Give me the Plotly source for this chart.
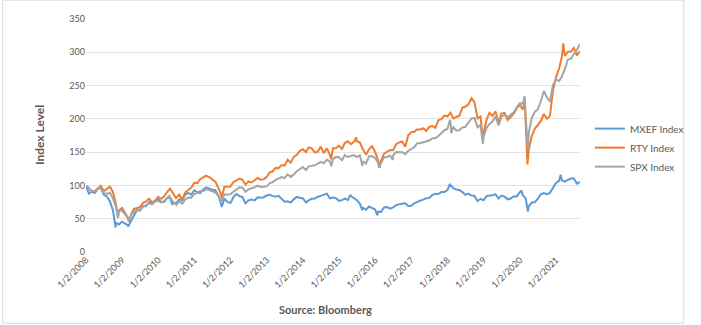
import pandas as pd
import plotly.graph_objects as go

# Month-end observation dates (Jan 2008 .. Aug 2021)
months = [d.strftime("%Y-%m-%d") for d in pd.date_range("2008-01-31", "2021-08-31", freq="ME")]
start_date = "2008-01-02"

# Index levels (rebased, 1/2/2008 = 100), month-end readings
mxef_monthly = [
    87.6, 90.8, 88.7, 94.8, 96.0, 85.9, 83.5, 75.9, 62.7, 43.8, 41.4, 45.5,
    42.6, 40.3, 46.2, 53.8, 63.1, 62.3, 69.1, 68.7, 75.1, 74.7, 77.5, 79.5,
    75.1, 75.1, 81.1, 81.5, 73.9, 73.5, 79.1, 77.5, 86.3, 88.8, 86.3, 92.5,
    89.6, 88.4, 94.0, 97.2, 94.8, 93.6, 92.8, 85.1, 70.7, 80.3, 75.1, 73.6,
    82.7, 87.1, 83.9, 82.7, 73.1, 77.5, 78.7, 77.5, 82.3, 81.5, 82.3, 84.8,
    85.9, 84.3, 83.1, 84.3, 80.3, 75.5, 76.3, 74.3, 79.1, 82.7, 81.5, 80.5,
    75.1, 77.5, 79.9, 80.3, 83.1, 84.3, 85.5, 87.6, 80.7, 81.9, 80.7, 76.8,
    77.9, 80.3, 78.3, 84.2, 80.7, 77.9, 72.3, 66.3, 63.5, 68.3, 65.5, 63.8,
    60.6, 60.2, 67.1, 67.5, 65.1, 67.1, 70.3, 71.9, 72.7, 73.1, 69.1, 69.3,
    73.1, 75.5, 77.1, 78.7, 80.7, 81.1, 85.5, 87.6, 87.1, 90.0, 90.0, 93.0,
    100.4, 96.0, 94.0, 93.2, 90.0, 85.9, 87.6, 84.7, 84.3, 76.7, 79.9, 77.6,
    84.3, 84.3, 85.1, 86.7, 80.3, 84.7, 83.1, 79.1, 80.3, 83.5, 83.5, 89.5,
    85.1, 80.7, 68.3, 74.3, 74.7, 79.9, 86.7, 88.4, 86.7, 88.8, 96.8, 103.7,
    106.8, 107.6, 105.6, 108.4, 110.4, 110.4, 102.8, 105.2,
]
rty_monthly = [
    94.66, 91.06, 91.30, 94.89, 99.43, 91.53, 94.30, 98.14, 90.19, 71.33, 62.79, 66.28,
    58.86, 51.63, 56.10, 64.70, 66.56, 67.45, 73.88, 75.92, 80.19, 74.68, 76.94, 83.00,
    79.90, 83.33, 90.06, 95.10, 87.94, 80.89, 86.38, 78.30, 89.73, 93.34, 96.48, 104.00,
    103.69, 109.28, 111.95, 114.84, 112.58, 109.81, 105.78, 96.46, 85.49, 98.35, 97.86, 98.33,
    105.22, 107.62, 110.19, 108.41, 101.10, 105.97, 104.44, 107.77, 111.14, 108.66, 109.08, 112.72,
    119.72, 120.91, 126.28, 125.74, 130.61, 129.72, 138.72, 134.16, 142.51, 146.00, 151.68, 154.43,
    150.08, 157.00, 155.68, 149.55, 150.56, 158.32, 148.65, 155.85, 146.21, 155.74, 155.70, 159.88,
    154.66, 163.68, 166.26, 161.93, 165.43, 166.42, 164.39, 153.87, 146.08, 154.19, 159.00, 150.75,
    137.41, 137.21, 147.84, 150.08, 153.26, 152.87, 161.90, 164.55, 166.11, 158.11, 175.49, 180.11,
    180.73, 184.03, 183.93, 185.86, 181.84, 187.83, 189.13, 186.50, 197.85, 199.43, 204.92, 203.78,
    209.02, 200.72, 202.97, 204.63, 216.80, 218.06, 221.73, 231.02, 225.16, 200.58, 203.48, 178.97,
    198.99, 209.10, 204.34, 211.17, 194.49, 207.90, 208.97, 198.39, 202.17, 207.35, 215.59, 221.42,
    214.21, 195.94, 153.03, 173.94, 185.00, 191.29, 196.47, 207.28, 200.09, 204.17, 241.51, 262.09,
    275.20, 292.11, 294.69, 300.78, 301.12, 306.63, 295.45, 301.76,
]
spx_monthly = [
    95.26, 91.95, 91.40, 95.75, 96.77, 88.45, 87.58, 88.64, 80.60, 66.94, 61.93, 62.42,
    57.07, 50.80, 55.13, 60.31, 63.51, 63.53, 68.24, 70.53, 73.05, 71.60, 75.71, 77.05,
    74.21, 76.32, 80.81, 82.00, 75.28, 71.22, 76.12, 72.51, 78.86, 81.77, 81.58, 86.91,
    88.87, 91.71, 91.62, 94.23, 92.96, 91.26, 89.30, 84.23, 78.18, 86.60, 86.17, 86.90,
    90.69, 94.37, 97.33, 96.60, 90.55, 94.13, 95.31, 97.20, 99.55, 97.58, 97.86, 98.55,
    103.52, 104.67, 108.43, 110.39, 112.69, 111.00, 116.49, 112.84, 116.20, 121.38, 124.78, 127.72,
    123.18, 128.49, 129.38, 130.18, 132.92, 135.45, 133.41, 138.44, 136.29, 139.45, 142.87, 142.27,
    137.86, 145.42, 142.89, 144.11, 145.62, 142.56, 145.38, 136.28, 132.68, 143.69, 143.76, 141.24,
    134.07, 133.52, 142.33, 142.71, 144.90, 145.03, 150.20, 150.02, 149.83, 146.92, 151.94, 154.71,
    157.47, 163.33, 163.27, 164.75, 166.66, 167.46, 170.70, 170.80, 174.09, 177.95, 182.95, 184.75,
    195.13, 187.53, 182.49, 182.99, 186.94, 187.84, 194.61, 200.50, 201.36, 187.39, 190.73, 173.23,
    186.86, 192.42, 195.86, 203.56, 190.17, 203.28, 205.95, 202.22, 205.70, 209.90, 217.05, 223.25,
    222.89, 204.14, 178.60, 201.25, 210.37, 214.23, 226.04, 241.88, 232.39, 225.96, 250.26, 259.55,
    256.66, 263.36, 274.53, 288.93, 290.51, 296.96, 303.72, 312.53,
]

# Intra-month extremes
mxef_extra_dates = ["2008-10-27", "2009-03-02", "2010-05-25", "2011-10-04", "2014-02-03",
                    "2015-04-27", "2015-08-24", "2016-01-21", "2018-01-26", "2020-01-17",
                    "2020-03-23", "2021-02-17"]
mxef_extra_vals = [36.9, 38.2, 70.7, 67.5, 74.3, 85.9, 62.7, 55.3, 102.2, 92.4, 60.9, 116.1]

rty_extra_dates = ["2008-11-20", "2009-03-09", "2011-10-03", "2014-10-13", "2015-06-23",
                   "2016-02-11", "2018-12-24", "2020-02-19", "2020-03-18", "2021-03-15"]
rty_extra_vals = [51.13, 45.55, 80.89, 139.26, 171.9, 126.57, 168.14, 225.08, 131.54, 313.22]

spx_extra_dates = ["2008-11-20", "2009-03-09", "2010-04-23", "2010-07-02", "2011-10-03",
                   "2014-10-15", "2015-08-25", "2016-02-11", "2016-06-27", "2018-01-26",
                   "2018-02-08", "2018-12-24", "2020-02-19", "2020-03-23"]
spx_extra_vals = [51.99, 46.75, 84.1, 70.66, 75.96, 128.7, 129.05, 126.4, 138.2, 198.52,
                  178.4, 162.47, 233.99, 154.61]

tick_dates = ["2008-01-02", "2009-01-02", "2010-01-02", "2011-01-02", "2012-01-02",
              "2013-01-02", "2014-01-02", "2015-01-02", "2016-01-02", "2017-01-02",
              "2018-01-02", "2019-01-02", "2020-01-02", "2021-01-02"]
tick_labels = ["1/2/2008", "1/2/2009", "1/2/2010", "1/2/2011", "1/2/2012", "1/2/2013",
               "1/2/2014", "1/2/2015", "1/2/2016", "1/2/2017", "1/2/2018", "1/2/2019",
               "1/2/2020", "1/2/2021"]

series_names = ["MXEF Index", "RTY Index", "SPX Index"]
series_colors = ["#5B9BD5", "#ED7D31", "#A5A5A5"]


def build(monthly, extra_dates, extra_vals):
    s = pd.Series([100.0] + monthly + extra_vals,
                  index=pd.to_datetime([start_date] + months + extra_dates))
    return s.sort_index()


all_series = [
    build(mxef_monthly, mxef_extra_dates, mxef_extra_vals),
    build(rty_monthly, rty_extra_dates, rty_extra_vals),
    build(spx_monthly, spx_extra_dates, spx_extra_vals),
]

fig = go.Figure()
for name, color, s in zip(series_names, series_colors, all_series):
    fig.add_trace(go.Scatter(x=s.index, y=s.values, mode="lines", name=name,
                             line=dict(color=color, width=2)))

FONT = "Lato, 'Open Sans', sans-serif"
GREY = "#595959"

fig.update_layout(
    width=701, height=325,
    margin=dict(l=86, r=108, t=19, b=73),
    paper_bgcolor="white", plot_bgcolor="white",
    font=dict(family=FONT, size=9, color=GREY),
    showlegend=True,
    legend=dict(x=1.02, y=0.448, xanchor="left", yanchor="middle",
                font=dict(size=10, color=GREY), bgcolor="rgba(0,0,0,0)",
                itemwidth=30, tracegroupgap=0),
    xaxis=dict(type="date", range=["2008-01-02", "2021-08-31"],
               tickmode="array", tickvals=tick_dates, ticktext=tick_labels,
               tickangle=-45, showgrid=False, zeroline=False,
               showline=False, ticks="", tickfont=dict(size=9, color=GREY)),
    yaxis=dict(range=[0, 350], dtick=50, showgrid=True, gridcolor="#E3E3E3",
               gridwidth=1, zeroline=False, showline=False, ticks="",
               tickfont=dict(size=9, color=GREY)),
    annotations=[
        dict(text="<b>Index Level</b>", xref="paper", yref="paper",
             x=-0.094, y=0.5, xanchor="center", yanchor="middle", textangle=-90,
             showarrow=False, font=dict(size=12, color=GREY, family=FONT)),
        dict(text="<b>Source: Bloomberg</b>", xref="paper", yref="paper",
             x=0.484, y=-0.245, xanchor="center", yanchor="middle",
             showarrow=False, font=dict(size=11, color=GREY, family=FONT)),
    ],
    shapes=[
        dict(type="rect", xref="paper", yref="paper",
             x0=(0.5 - 86) / 507, x1=(699.5 - 86) / 507,
             y0=(252.3 - 323.5) / 233, y1=(252.3 - 0.5) / 233,
             line=dict(color="#D9D9D9", width=1), fillcolor="rgba(0,0,0,0)",
             layer="below"),
    ],
)

fig.write_html("out.html")
